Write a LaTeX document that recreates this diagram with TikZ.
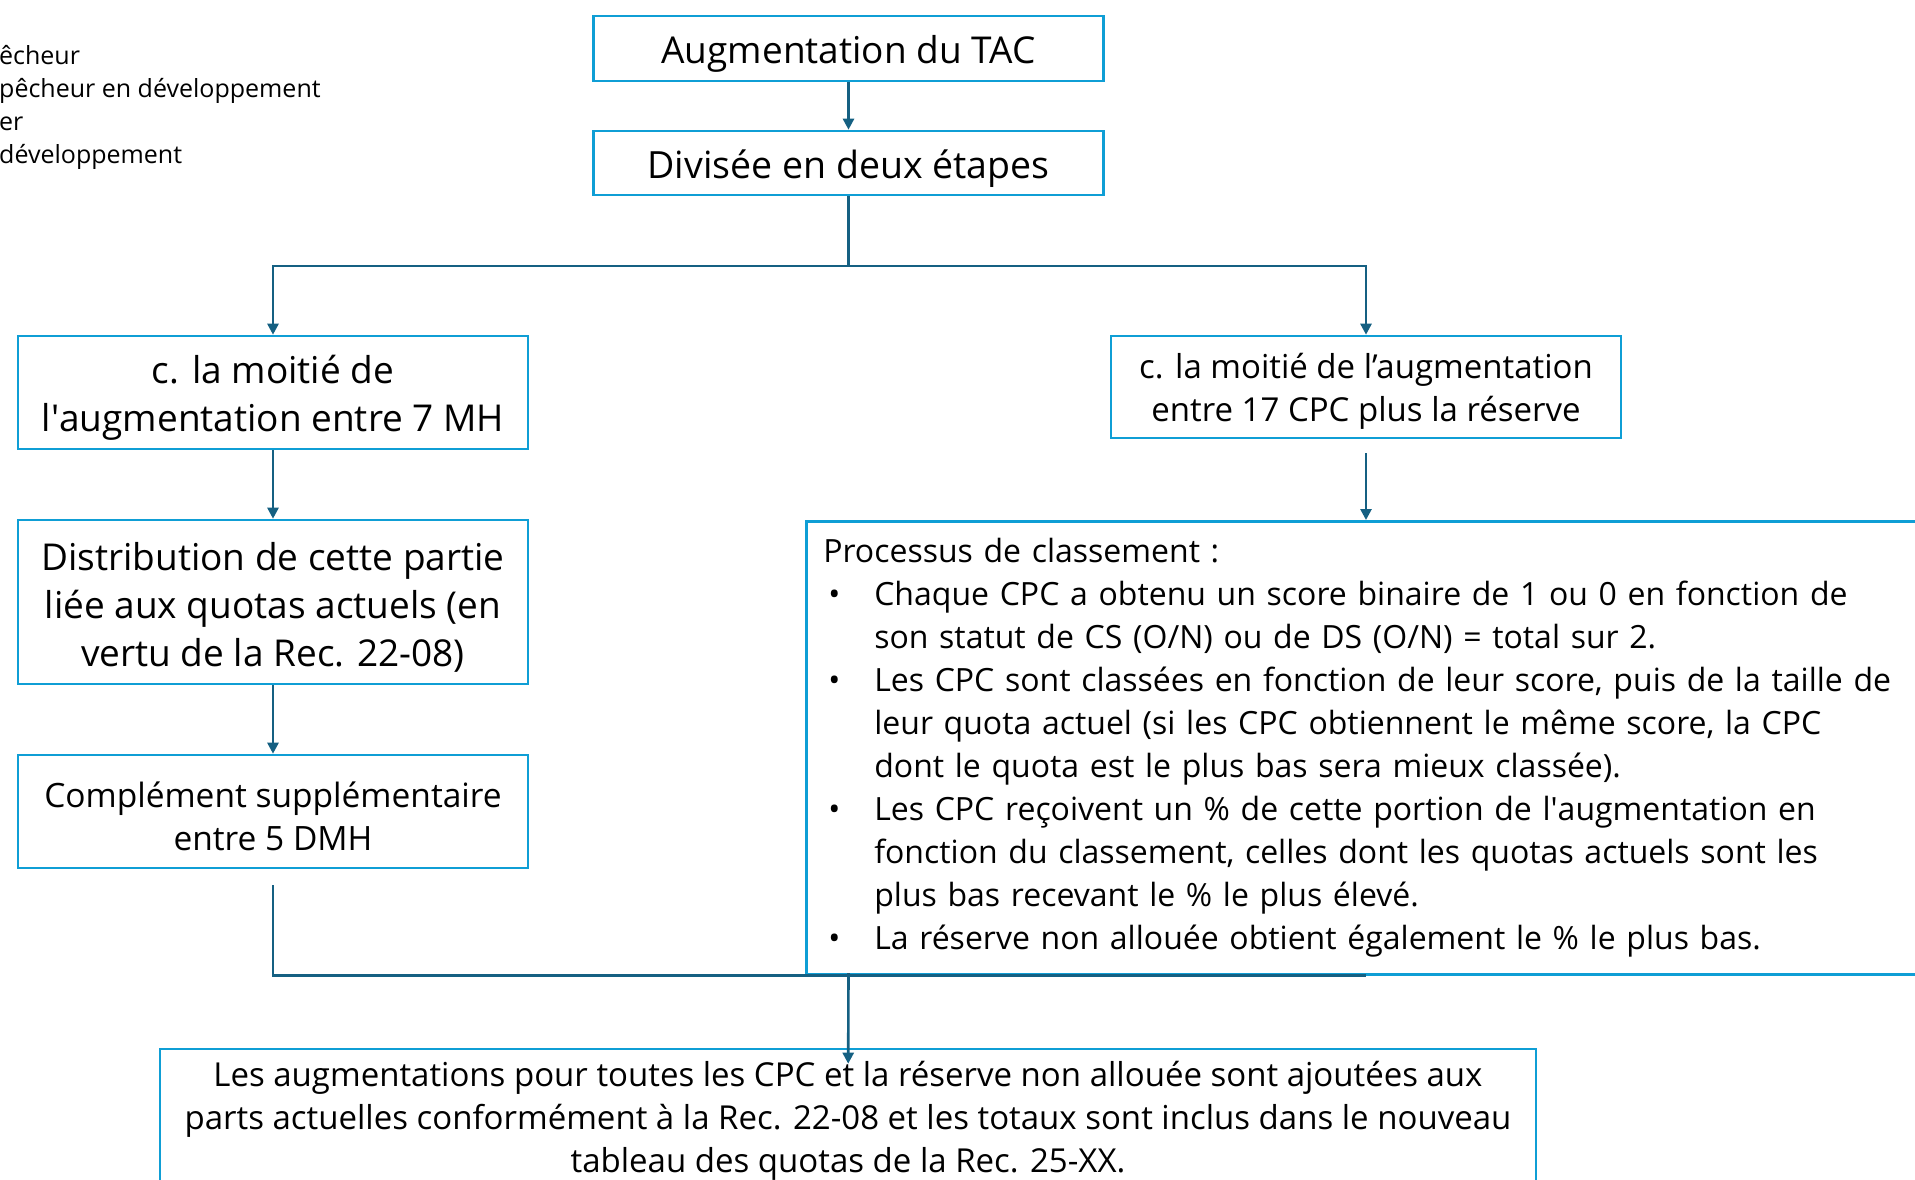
\documentclass[tikz,border=0pt]{standalone}
\usepackage{fontspec}
\setmainfont{Open Sans}
\usetikzlibrary{arrows.meta, positioning}
\definecolor{boxline}{HTML}{0F9ED5}
\definecolor{wireblue}{HTML}{156082}
\newcommand{\toppad}{\rule{0pt}{1.05em}}
\tikzset{
  stage/.style = {draw=boxline, line width=2.6pt, align=center, inner sep=0pt,
                  minimum width=510pt},
  link/.style  = {-{Triangle[length=11pt,width=11pt]}, line width=2.6pt, draw=wireblue},
  wire/.style  = {line width=2.6pt, draw=wireblue}
}

\begin{document}
\begin{tikzpicture}[x=1pt, y=-1pt]
\useasboundingbox (0,0) rectangle (1915,1179);
\clip (0,0) rectangle (1915,1179);
% legend, cut at the left edge
\node[anchor=north west, align=left, inner sep=0pt, font=\fontsize{25}{33}\selectfont]
  (legend) at (-1,45) {êcheur\\pêcheur en développement\\er\\développement};
% top of the chart
\node[stage, minimum height=65pt, font=\fontsize{37}{48}\selectfont] (tac) at (848.5,48.5) {\toppad Augmentation du TAC};
\node[stage, minimum height=64pt, font=\fontsize{37.5}{48}\selectfont] (div) at (848.5,163) {\toppad Divisée en deux étapes};
\coordinate (bus) at (848.5,266);
% left branch
\node[stage, minimum height=113pt, font=\fontsize{37}{48}\selectfont] (halfL) at (273,392.5)
  {\toppad c. la moitié de\\l\textquotesingle augmentation entre 7 MH};
\node[stage, minimum height=164pt, font=\fontsize{37}{48}\selectfont] (distr) at (273,602)
  {\toppad Distribution de cette partie\\liée aux quotas actuels (en\\vertu de la Rec. 22-08)};
\node[stage, minimum height=113pt, font=\fontsize{33.5}{43}\selectfont] (compl) at (273,811.5)
  {\toppad Complément supplémentaire\\entre 5 DMH};
% right branch
\node[stage, minimum height=102pt, font=\fontsize{33}{43}\selectfont] (halfR) at (1366,387)
  {\toppad c. la moitié de l’augmentation\\entre 17 CPC plus la réserve};
\node[stage, anchor=north west, align=left, minimum height=453pt, inner xsep=17pt,
      text width=1150pt, font=\fontsize{32}{43}\selectfont] (rank) at (805,520)
  {Processus de classement :\\
   \hspace*{5pt}\makebox[46pt][l]{•}Chaque CPC a obtenu un score binaire de 1 ou 0 en fonction de\\
   \hspace*{51pt}son statut de CS (O/N) ou de DS (O/N) = total sur 2.\\
   \hspace*{5pt}\makebox[46pt][l]{•}Les CPC sont classées en fonction de leur score, puis de la taille de\\
   \hspace*{51pt}leur quota actuel (si les CPC obtiennent le même score, la CPC\\
   \hspace*{51pt}dont le quota est le plus bas sera mieux classée).\\
   \hspace*{5pt}\makebox[46pt][l]{•}Les CPC reçoivent un \% de cette portion de l\textquotesingle augmentation en\\
   \hspace*{51pt}fonction du classement, celles dont les quotas actuels sont les\\
   \hspace*{51pt}plus bas recevant le \% le plus élevé.\\
   \hspace*{5pt}\makebox[46pt][l]{•}La réserve non allouée obtient également le \% le plus bas.};
% final box
\node[stage, minimum width=1376pt, minimum height=134pt, font=\fontsize{33}{43}\selectfont] (total) at (848,1116)
  {\toppad Les augmentations pour toutes les CPC et la réserve non allouée sont ajoutées aux\\
   parts actuelles conformément à la Rec. 22-08 et les totaux sont inclus dans le nouveau\\
   tableau des quotas de la Rec. 25-XX.};
\coordinate (merge) at (848.5,973);
% connectors
\draw[link] (tac) -- (div);
\draw[wire] (div) -- (bus);
\draw[link] (bus) -| (halfL);
\draw[link] (bus) -| (halfR);
\draw[link] (halfL) -- (distr);
\draw[link] (distr) -- (compl);
\draw[link, shorten <=14pt] (halfR) -- (halfR |- rank.north);
\draw[wire, shorten <=16pt] (compl) |- (halfR |- rank.south);
\draw[link, shorten >=-16pt] (merge) -- (total);
\end{tikzpicture}
\end{document}
